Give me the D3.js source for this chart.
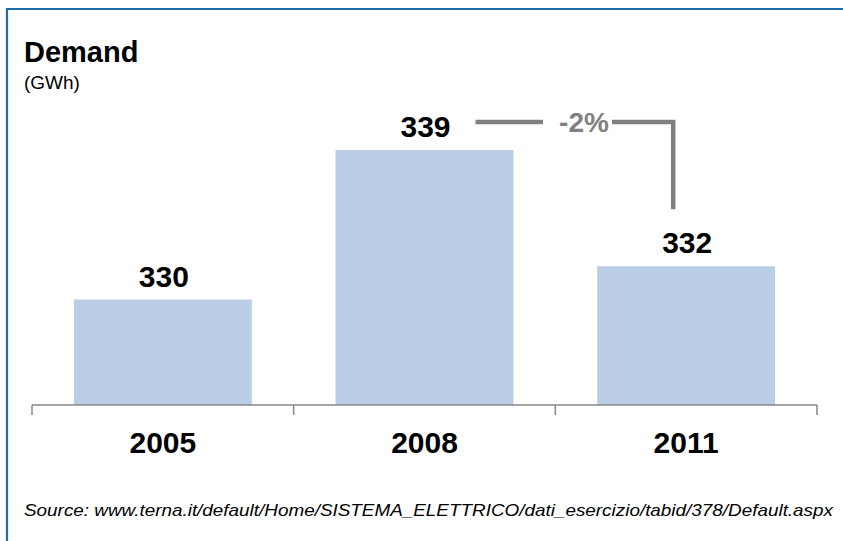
<!DOCTYPE html>
<html>
<head>
<meta charset="utf-8">
<script src="https://cdn.jsdelivr.net/npm/d3@7"></script>
<style>
  html, body { margin: 0; padding: 0; background: #fff; }
  svg { display: block; }
  text { font-family: "Liberation Sans", Arial, sans-serif; }
</style>
</head>
<body>
<div id="chart"></div>
<script>
// Electricity demand by year (GWh)
const years = ["2005", "2008", "2011"];
const demand = [330, 339, 332];
const titleText = "Demand";
const unitText = "(GWh)";
const sourceText = "Source: www.terna.it/default/Home/SISTEMA_ELETTRICO/dati_esercizio/tabid/378/Default.aspx";

const W = 843, H = 541;
const svg = d3.select("#chart").append("svg")
  .attr("width", W).attr("height", H);

// frame
svg.append("path")
  .attr("d", `M7,${H + 5} V9 H${W + 5}`)
  .attr("fill", "none")
  .attr("stroke", "#1f6cb0")
  .attr("stroke-width", 2.2);

// title
svg.append("text").attr("x", 24).attr("y", 62)
  .attr("font-size", 29).attr("font-weight", "bold").attr("fill", "#000")
  .text(titleText);
svg.append("text").attr("x", 24).attr("y", 89)
  .attr("font-size", 19).attr("fill", "#000")
  .text(unitText);

// scales
const x = d3.scaleBand().domain(years).range([32, 817])
  .paddingInner(0.32).paddingOuter(0.16);
const y = d3.scaleLinear().domain([323.65, 339]).range([405, 150]);

const data = years.map((yr, i) => ({ year: yr, value: demand[i] }));

// bars
svg.append("g").selectAll("rect").data(data).join("rect")
  .attr("x", d => x(d.year))
  .attr("y", d => y(d.value))
  .attr("width", x.bandwidth())
  .attr("height", d => y.range()[0] - y(d.value))
  .attr("fill", "#b9cde5");

// value labels
svg.append("g").selectAll("text").data(data).join("text")
  .attr("x", d => x(d.year) + x.bandwidth() / 2 + 1)
  .attr("y", d => y(d.value) - 13)
  .attr("text-anchor", "middle")
  .attr("font-size", 30).attr("font-weight", "bold").attr("fill", "#000")
  .text(d => d.value);

// category axis with boundary ticks
const x0 = x.range()[0], x1 = x.range()[1], base = y.range()[0];
const axis = svg.append("g").attr("stroke", "#868686").attr("stroke-width", 1.5).attr("fill", "none");
axis.append("line").attr("x1", x0).attr("x2", x1).attr("y1", base).attr("y2", base);
const step = x.step();
d3.range(years.length + 1).forEach(i => {
  const tx = x0 + i * step;
  axis.append("line").attr("x1", tx).attr("x2", tx).attr("y1", base).attr("y2", base + 10);
});

// year labels
svg.append("g").selectAll("text").data(years).join("text")
  .attr("x", d => x(d) + x.bandwidth() / 2)
  .attr("y", 453)
  .attr("text-anchor", "middle")
  .attr("font-size", 30).attr("font-weight", "bold").attr("fill", "#000")
  .text(d => d);

// change annotation between 2008 and 2011
const change = (demand[2] - demand[1]) / demand[1];
const changeLabel = d3.format(".0%")(change).replace("\u2212", "-");
const yLine = y(demand[1]) - 28;
const xStart = x(years[1]) + x.bandwidth() / 2 + 51;
const xEnd = x(years[2]) + x.bandwidth() / 2 - 13;
const yDrop = y(demand[2]) - 57;
const gray = "#808080";
const ann = svg.append("g").attr("stroke", gray).attr("stroke-width", 4.5).attr("fill", "none");
ann.append("line").attr("x1", xStart).attr("x2", 543).attr("y1", yLine).attr("y2", yLine);
ann.append("path").attr("d", `M612,${yLine} H${xEnd} V${yDrop}`)
  .attr("stroke-linejoin", "miter");
svg.append("text").attr("x", 584).attr("y", yLine + 10)
  .attr("text-anchor", "middle")
  .attr("font-size", 28).attr("font-weight", "bold").attr("fill", gray)
  .text(changeLabel);

// source note
svg.append("text").attr("x", 24).attr("y", 516)
  .attr("font-size", 17).attr("font-style", "italic").attr("fill", "#000")
  .attr("textLength", 809).attr("lengthAdjust", "spacingAndGlyphs")
  .text(sourceText);
</script>
</body>
</html>
